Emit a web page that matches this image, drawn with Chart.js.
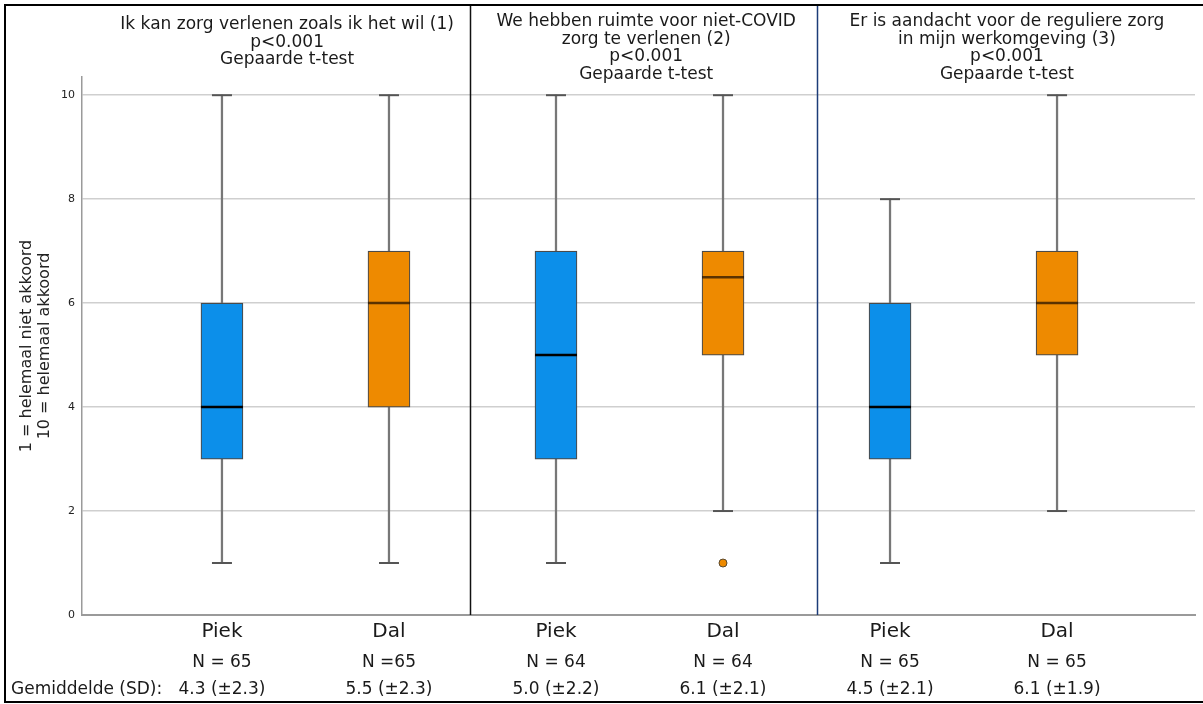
<!DOCTYPE html>
<html>
<head>
<meta charset="utf-8">
<script src="https://cdn.jsdelivr.net/npm/chart.js@4.4.1/dist/chart.umd.min.js"></script>
<style>
  html, body { margin: 0; padding: 0; background: #fff; }
  #box { width: 1203px; height: 704px; }
</style>
</head>
<body>
<div id="box"><canvas id="chart" width="1203" height="704"></canvas></div>
<script>
'use strict';

// ── data ──────────────────────────────────────────────────────────────────────
const groups     = ['Piek', 'Dal', 'Piek', 'Dal', 'Piek', 'Dal'];
const whiskerLo  = [1, 1, 1, 2, 1, 2];
const q1         = [3, 4, 3, 5, 3, 5];
const medians    = [4, 6, 5, 6.5, 4, 6];
const q3         = [6, 7, 7, 7, 6, 7];
const whiskerHi  = [10, 10, 10, 10, 8, 10];
const outliers   = [{ group: 3, value: 1 }];
const nLabels    = ['N = 65', 'N =65', 'N = 64', 'N = 64', 'N = 65', 'N = 65'];
const meanLabels = ['4.3 (\u00b12.3)', '5.5 (\u00b12.3)', '5.0 (\u00b12.2)', '6.1 (\u00b12.1)', '4.5 (\u00b12.1)', '6.1 (\u00b11.9)'];
const yTicks     = [0, 2, 4, 6, 8, 10];
const panelTitles = [
  ['Ik kan zorg verlenen zoals ik het wil (1)', 'p<0.001', 'Gepaarde t-test'],
  ['We hebben ruimte voor niet-COVID', 'zorg te verlenen (2)', 'p<0.001', 'Gepaarde t-test'],
  ['Er is aandacht voor de reguliere zorg', 'in mijn werkomgeving (3)', 'p<0.001', 'Gepaarde t-test'],
];
const yTitle = ['1 = helemaal niet akkoord', '10 = helemaal akkoord'];

// ── look ──────────────────────────────────────────────────────────────────────
const BLUE   = '#0c8fea';
const ORANGE = '#ee8a00';
const FONT   = '"DejaVu Sans", Verdana, sans-serif';
const fill   = groups.map(g => g === 'Piek' ? BLUE : ORANGE);
const medCol = groups.map(g => g === 'Piek' ? '#000' : 'rgba(40,20,0,0.75)');

// panel layout in x-scale units
const dividers     = [{ at: 1.485, color: '#111' }, { at: 3.563, color: '#1c3c78' }];
const titleCenters = [0.39, 2.54, 4.70];
const titleTops    = [25, 22, 22];

const idx = groups.map((_, i) => i);

const annotate = {
  id: 'annotate',
  afterDraw(chart) {
    const { ctx, chartArea, scales: { x } } = chart;
    ctx.save();

    // panel dividers
    dividers.forEach(d => {
      const px = Math.round(x.getPixelForValue(d.at)) + 0.5;
      ctx.strokeStyle = d.color;
      ctx.lineWidth = 1.5;
      ctx.beginPath();
      ctx.moveTo(px, 5);
      ctx.lineTo(px, chartArea.bottom);
      ctx.stroke();
    });

    // panel titles
    ctx.fillStyle = '#1a1a1a';
    ctx.textAlign = 'center';
    ctx.textBaseline = 'middle';
    ctx.font = `17px ${FONT}`;
    panelTitles.forEach((lines, p) => {
      const cx = x.getPixelForValue(titleCenters[p]);
      lines.forEach((t, k) => ctx.fillText(t, cx, titleTops[p] + k * 17.5));
    });

    // group labels, N, means
    idx.forEach(i => {
      const cx = x.getPixelForValue(i);
      ctx.font = `20px ${FONT}`;
      ctx.fillText(groups[i], cx, 632);
      ctx.font = `17px ${FONT}`;
      ctx.fillText(nLabels[i], cx, 663);
      ctx.fillText(meanLabels[i], cx, 690);
    });
    ctx.textAlign = 'left';
    ctx.font = `17px ${FONT}`;
    ctx.fillText('Gemiddelde (SD):', 11, 690);

    // outer frame
    ctx.strokeStyle = '#000';
    ctx.lineWidth = 2;
    ctx.beginPath();
    ctx.moveTo(1203, 5);
    ctx.lineTo(5, 5);
    ctx.lineTo(5, 702);
    ctx.lineTo(1203, 702);
    ctx.stroke();
    ctx.restore();
  },
};

new Chart(document.getElementById('chart'), {
  type: 'bar',
  data: {
    datasets: [
      {
        type: 'line', label: 'median', order: 0, showLine: false,
        data: idx.map(i => ({ x: i, y: medians[i] })),
        pointStyle: 'line', pointRadius: 21, pointHoverRadius: 21,
        pointBorderColor: medCol, pointBorderWidth: 2.5,
      },
      {
        type: 'line', label: 'caps', order: 1, showLine: false,
        data: idx.flatMap(i => [{ x: i, y: whiskerLo[i] }, { x: i, y: whiskerHi[i] }]),
        pointStyle: 'line', pointRadius: 10, pointHoverRadius: 10,
        pointBorderColor: '#555', pointBorderWidth: 2,
      },
      {
        type: 'line', label: 'outliers', order: 1, showLine: false,
        data: outliers.map(o => ({ x: o.group, y: o.value })),
        pointStyle: 'circle', pointRadius: 4, pointHoverRadius: 4,
        pointBackgroundColor: outliers.map(o => fill[o.group]),
        pointBorderColor: '#5a4a30', pointBorderWidth: 1,
      },
      {
        label: 'box', order: 2, grouped: false,
        data: idx.map(i => ({ x: i, y: [q1[i], q3[i]] })),
        backgroundColor: fill, borderColor: '#4a4a4a', borderWidth: 1.2,
        borderSkipped: false, barThickness: 42,
      },
      {
        label: 'whisker', order: 3, grouped: false,
        data: idx.map(i => ({ x: i, y: [whiskerLo[i], whiskerHi[i]] })),
        backgroundColor: '#777', borderWidth: 0, barThickness: 1.6,
      },
    ],
  },
  options: {
    responsive: false,
    animation: false,
    layout: { autoPadding: false, padding: { left: 6, top: 77, right: 8, bottom: 89 } },
    plugins: { legend: { display: false }, tooltip: { enabled: false } },
    scales: {
      x: {
        type: 'linear', min: -0.838, max: 5.826, offset: false,
        ticks: { display: false },
        grid: { display: false, offset: false },
        border: { display: true, color: '#9a9a9a', width: 2 },
        afterFit: s => { s.height = 0; s.paddingLeft = 0; s.paddingRight = 0; },
      },
      y: {
        min: 0, max: 10.35,
        afterBuildTicks: s => { s.ticks = yTicks.map(v => ({ value: v })); },
        afterFit: s => { s.width = 76; },
        ticks: { color: '#222', font: { family: FONT, size: 11 }, padding: 7 },
        grid: { color: '#cfcfcf', lineWidth: 1.5, drawTicks: false },
        border: { color: '#9a9a9a', width: 1.5 },
        title: {
          display: true, text: yTitle, color: '#222',
          font: { family: FONT, size: 16, lineHeight: '18px' },
          padding: { top: 12, bottom: 0 },
        },
      },
    },
  },
  plugins: [annotate],
});
</script>
</body>
</html>
